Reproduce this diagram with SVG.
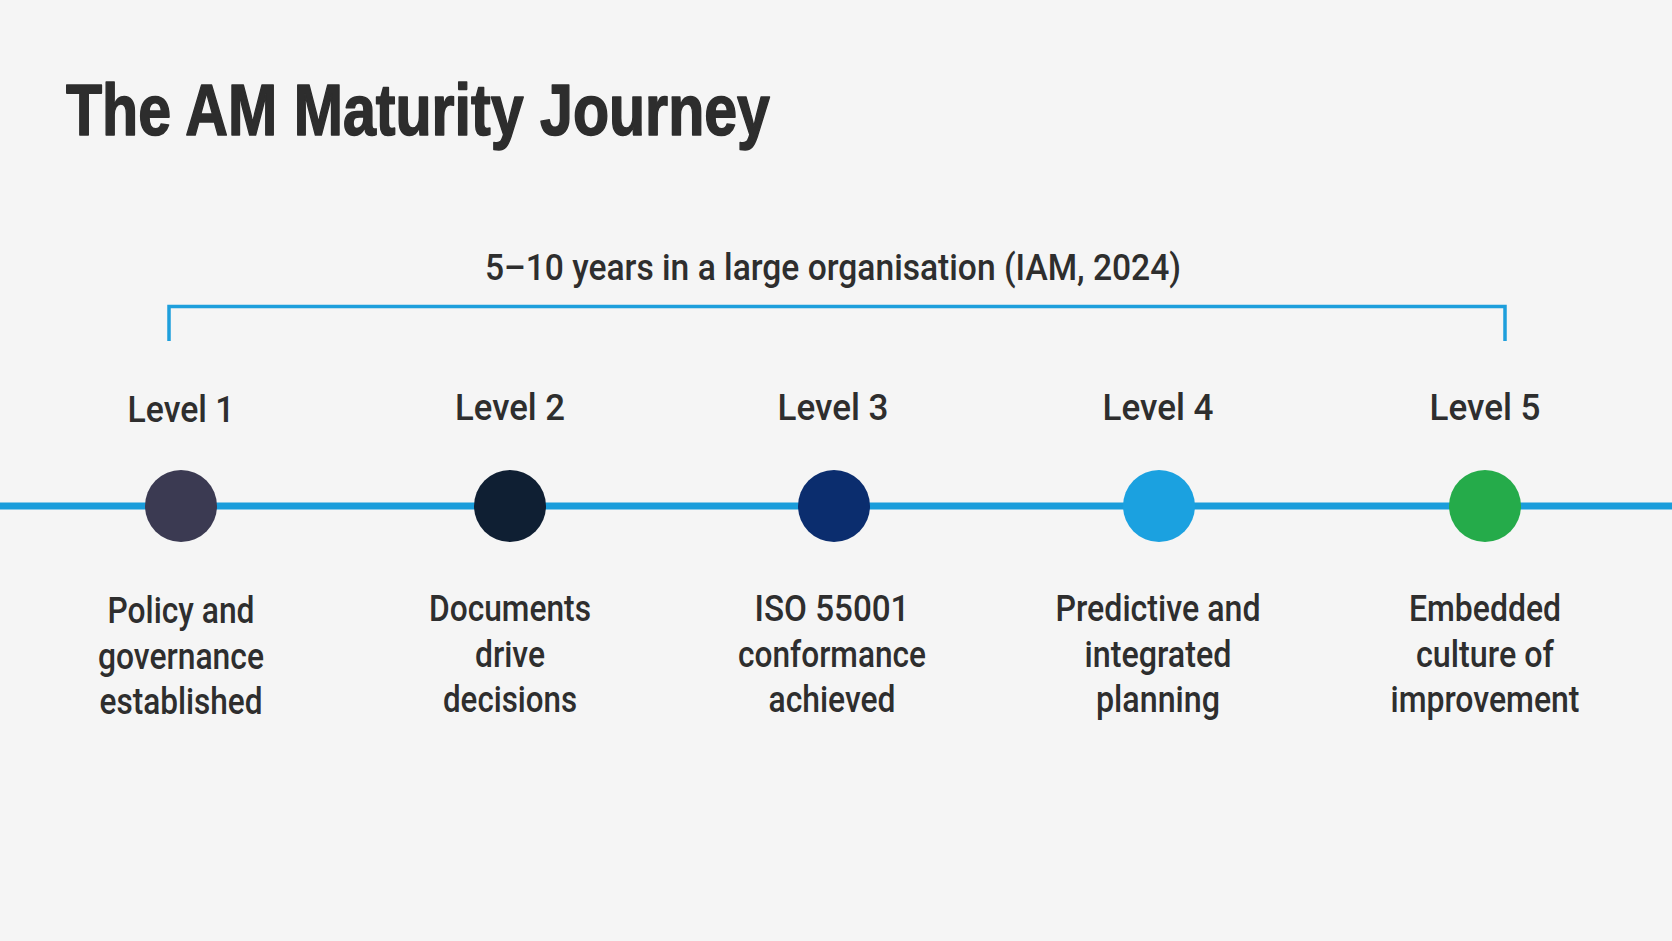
<svg xmlns="http://www.w3.org/2000/svg" width="1672" height="941" viewBox="0 0 1672 941">
  <style>
    .title { font-family: "Liberation Sans Narrow", "Liberation Sans", Arial, sans-serif; font-weight: 700; font-size: 72px; fill: #2d2d2d; stroke: #2d2d2d; stroke-width: 1.6px; stroke-linejoin: round; }
    .sub { font-family: Roboto, "Liberation Sans", Arial, sans-serif; font-weight: 500; font-size: 37px; fill: #2e2e2e; }
    .lvl { font-family: Roboto, "Liberation Sans", Arial, sans-serif; font-weight: 500; font-size: 37px; fill: #2e2e2e; text-anchor: middle; }
    .desc { font-family: Roboto, "Liberation Sans", Arial, sans-serif; font-weight: 500; font-size: 37px; fill: #2e2e2e; text-anchor: middle; }
    .tl { stroke: #1a9ddb; stroke-width: 7; fill: none; }
    .br { stroke: #1e9fdc; stroke-width: 3.5; fill: none; }
  </style>
  <rect x="0" y="0" width="1672" height="941" fill="#f5f5f5"/>
  <text class="title" x="66" y="135" textLength="704" lengthAdjust="spacingAndGlyphs">The AM Maturity Journey</text>

  <g id="connectors">
    <line class="tl" x1="0" y1="506" x2="1672" y2="506"/>
    <path class="br" d="M169 341 V306.5 H1505 V341"/>
  </g>
  <text class="sub" x="833" y="280" text-anchor="middle" textLength="696" lengthAdjust="spacingAndGlyphs">5–10 years in a large organisation (IAM, 2024)</text>

  <g id="level1">
    <text class="lvl" x="181" y="422" textLength="107" lengthAdjust="spacingAndGlyphs">Level 1</text>
    <circle cx="181" cy="506" r="36" fill="#3b3a52"/>
    <text class="desc" x="181" y="623" textLength="147" lengthAdjust="spacingAndGlyphs">Policy and</text>
    <text class="desc" x="181" y="669" textLength="166" lengthAdjust="spacingAndGlyphs">governance</text>
    <text class="desc" x="181" y="714" textLength="163" lengthAdjust="spacingAndGlyphs">established</text>
  </g>
  <g id="level2">
    <text class="lvl" x="510" y="420" textLength="110" lengthAdjust="spacingAndGlyphs">Level 2</text>
    <circle cx="510" cy="506" r="36" fill="#0f1f33"/>
    <text class="desc" x="510" y="621" textLength="162" lengthAdjust="spacingAndGlyphs">Documents</text>
    <text class="desc" x="510" y="667" textLength="70" lengthAdjust="spacingAndGlyphs">drive</text>
    <text class="desc" x="510" y="712" textLength="134" lengthAdjust="spacingAndGlyphs">decisions</text>
  </g>
  <g id="level3">
    <text class="lvl" x="833" y="420" textLength="111" lengthAdjust="spacingAndGlyphs">Level 3</text>
    <circle cx="834" cy="506" r="36" fill="#0b2d6e"/>
    <text class="desc" x="832" y="621" textLength="155" lengthAdjust="spacingAndGlyphs">ISO 55001</text>
    <text class="desc" x="832" y="667" textLength="188" lengthAdjust="spacingAndGlyphs">conformance</text>
    <text class="desc" x="832" y="712" textLength="127" lengthAdjust="spacingAndGlyphs">achieved</text>
  </g>
  <g id="level4">
    <text class="lvl" x="1158" y="420" textLength="111" lengthAdjust="spacingAndGlyphs">Level 4</text>
    <circle cx="1159" cy="506" r="36" fill="#1ba1e0"/>
    <text class="desc" x="1158" y="621" textLength="205" lengthAdjust="spacingAndGlyphs">Predictive and</text>
    <text class="desc" x="1158" y="667" textLength="147" lengthAdjust="spacingAndGlyphs">integrated</text>
    <text class="desc" x="1158" y="712" textLength="124" lengthAdjust="spacingAndGlyphs">planning</text>
  </g>
  <g id="level5">
    <text class="lvl" x="1485" y="420" textLength="111" lengthAdjust="spacingAndGlyphs">Level 5</text>
    <circle cx="1485" cy="506" r="36" fill="#25ab4a"/>
    <text class="desc" x="1485" y="621" textLength="152" lengthAdjust="spacingAndGlyphs">Embedded</text>
    <text class="desc" x="1485" y="667" textLength="138" lengthAdjust="spacingAndGlyphs">culture of</text>
    <text class="desc" x="1485" y="712" textLength="189" lengthAdjust="spacingAndGlyphs">improvement</text>
  </g>
</svg>
